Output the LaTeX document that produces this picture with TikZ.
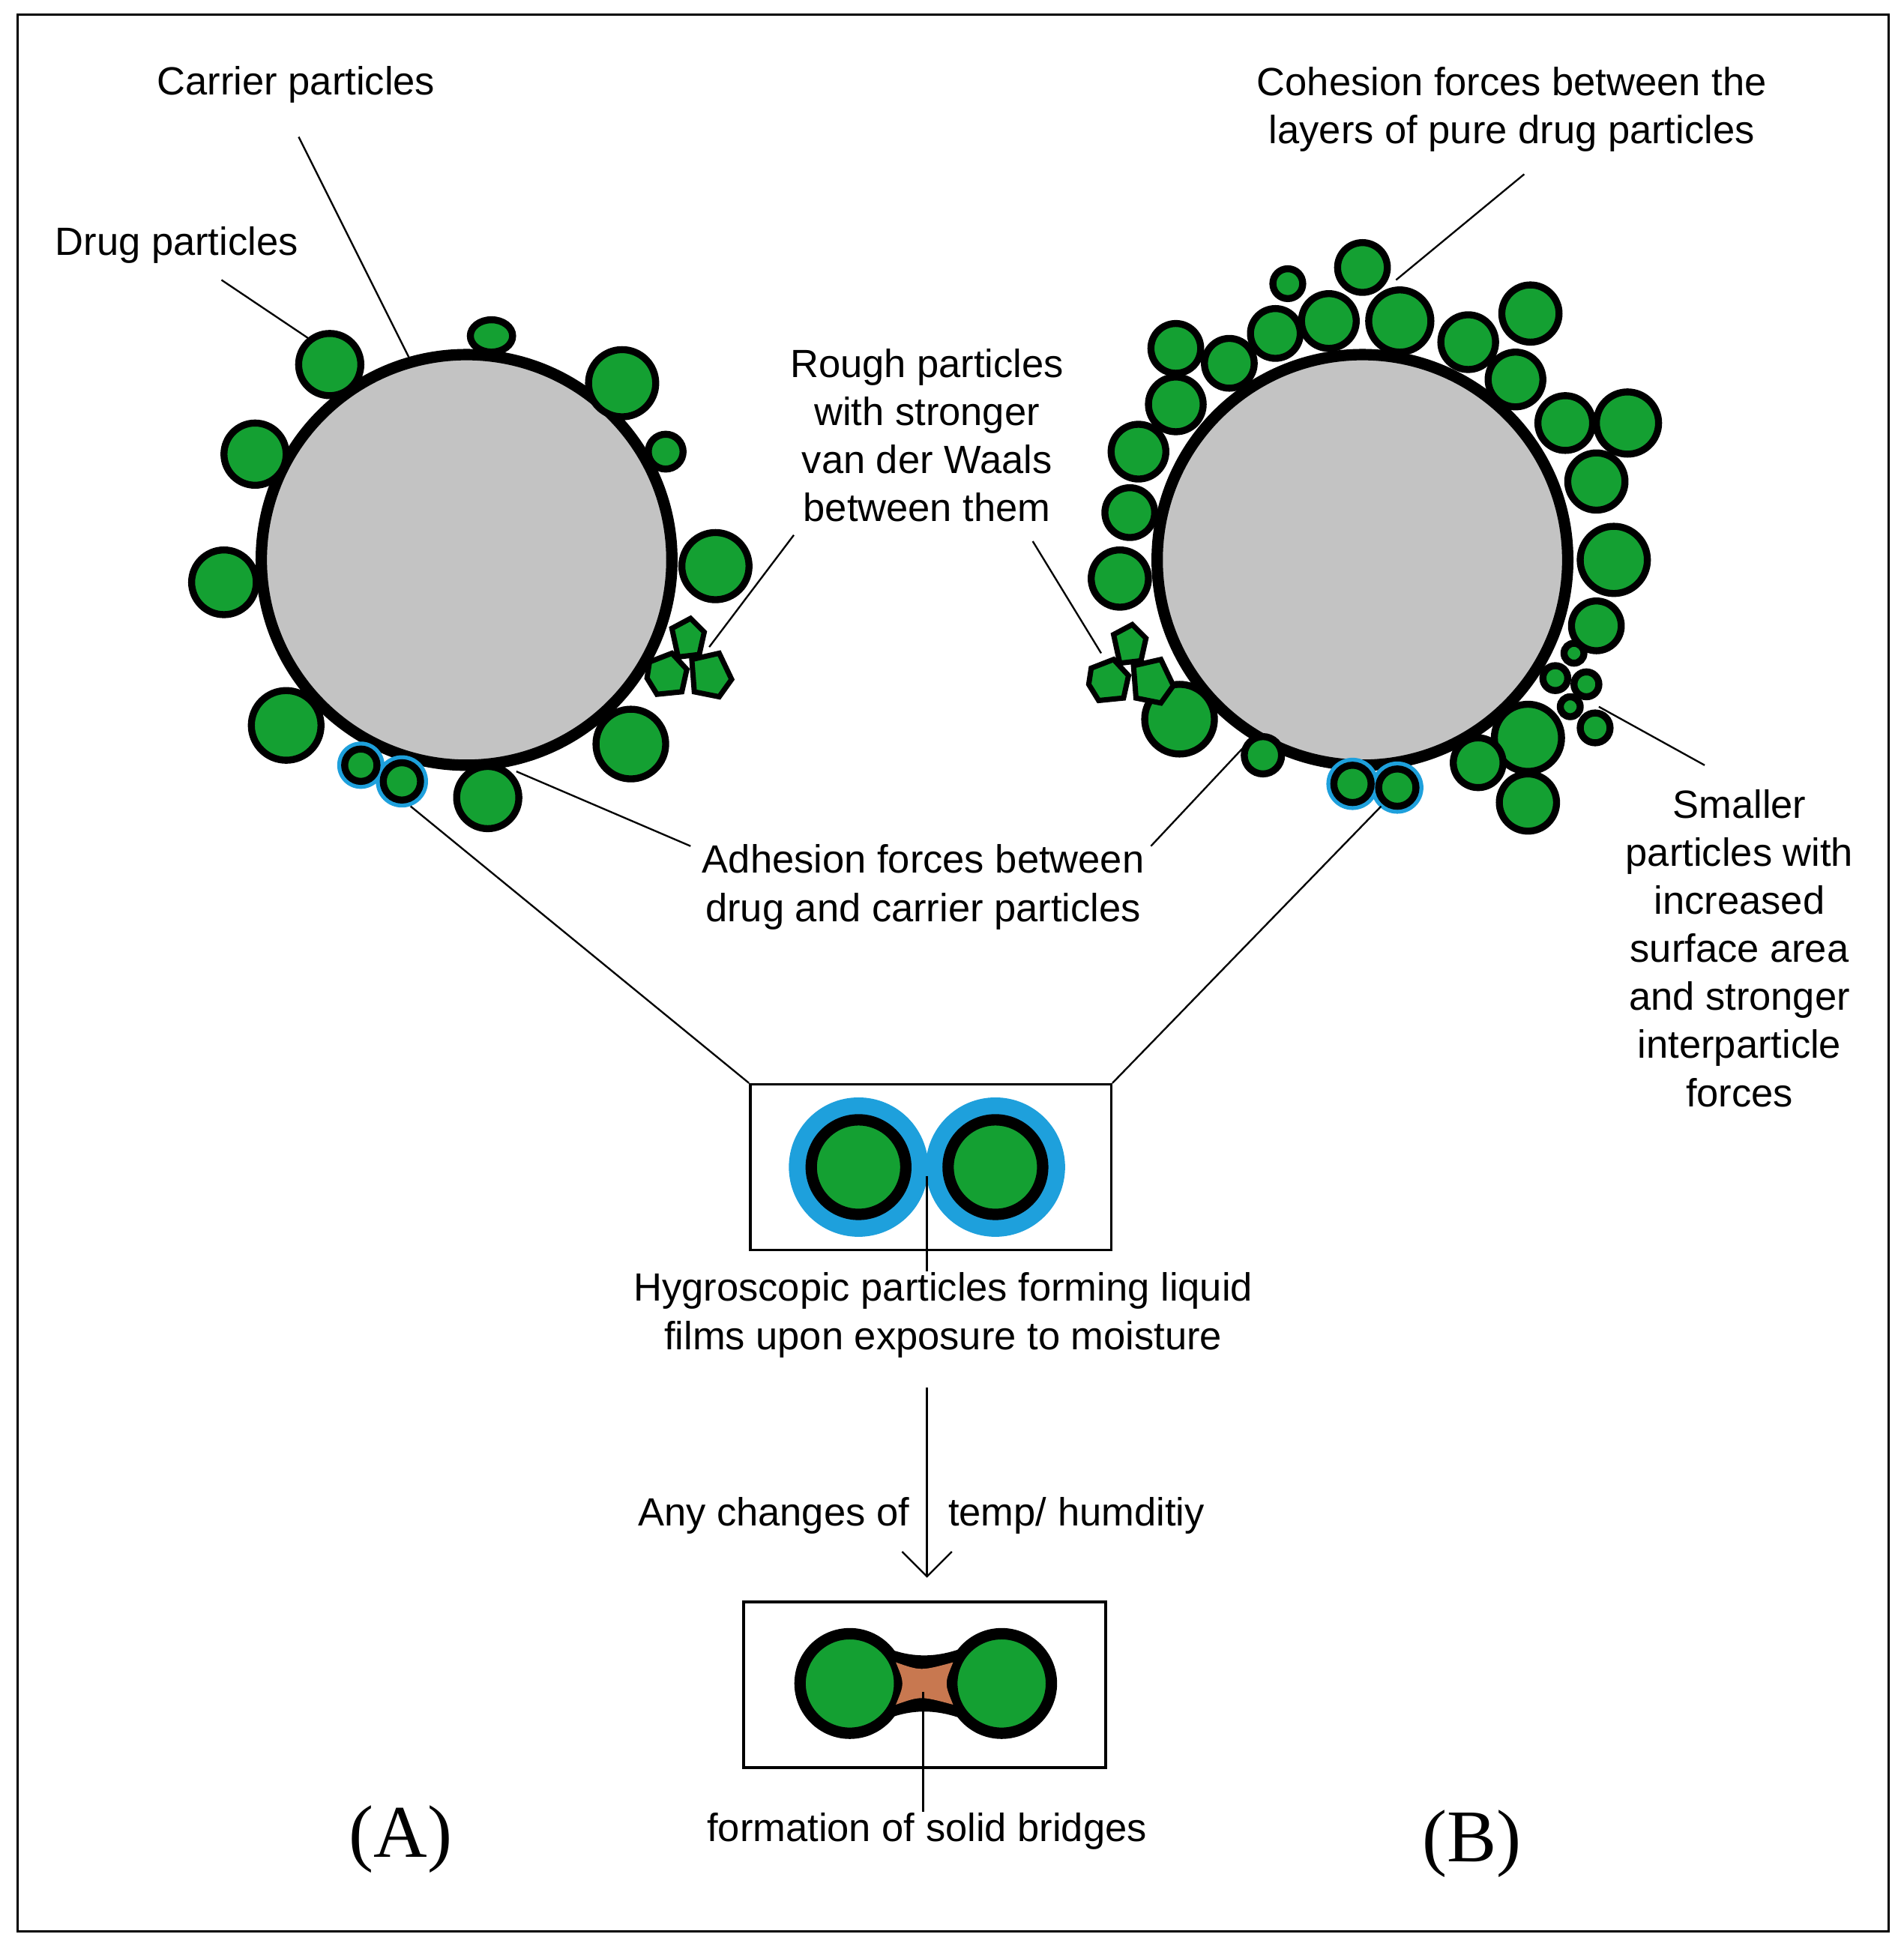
\documentclass[tikz,border=0pt]{standalone}
\usepackage{fontspec}
\setmainfont{Liberation Sans}
\newfontfamily\labelserif{Liberation Serif}
\usetikzlibrary{arrows.meta,positioning,shapes.geometric}
\definecolor{drug}{RGB}{20,160,50}
\definecolor{film}{RGB}{30,160,220}
\definecolor{carrier}{RGB}{195,195,195}
\definecolor{bridge}{RGB}{200,120,80}
\begin{document}
\begin{tikzpicture}[x=0.1mm, y=-0.1mm,
  drug/.style = {circle, draw=black, line width=1.6pt, fill=drug, inner sep=0pt},
  carrier/.style = {circle, draw=black, line width=2.6pt, fill=carrier, inner sep=0pt, minimum size=330*0.1mm},
  txt/.style = {font=\fontsize{9}{11}\selectfont, align=center, inner sep=1pt},
  lead/.style = {draw, line width=0.4pt}
  ]
  \useasboundingbox (0,0) rectangle (1530,1564);
  \draw[line width=0.5pt] (14,12) rectangle (1518,1552);
  % carriers
  \node[carrier] (carA) at (375,450) {};
  \node[carrier] (carB) at (1095,450) {};
  % drug particles on A
  \foreach \x/\y/\r [count=\n] in {265/293/50, 500/308/54, 535/363/28,
      205/365/50, 575/455/54, 180/468/52, 230/583/56, 507/598/56, 392/641/50}
    \node[drug, minimum size=\r*0.1mm] (pA\n) at (\x,\y) {};
  \node[drug, ellipse, minimum width=34*0.1mm, minimum height=26*0.1mm] (pAsmall) at (395,270) {};
  % wet particles
  \fill[film] (290,615) circle[radius=19] (323,628) circle[radius=21]
              (1087,630) circle[radius=21] (1123,633) circle[radius=21];
  \node[drug, minimum size=26*0.1mm] (wA1) at (290,615) {};
  \node[drug, minimum size=30*0.1mm] (wA2) at (323,628) {};
  \node[drug, minimum size=30*0.1mm] (wB1) at (1087,630) {};
  \node[drug, minimum size=30*0.1mm] (wB2) at (1123,633) {};
  % drug particles on B
  \foreach \x/\y/\r [count=\n] in {1095/215/40, 1035/228/24, 945/280/40, 988/292/40,
      1025/268/40, 1068/258/44, 1125/258/50, 1180/275/44, 1230/252/46, 1218/305/44,
      945/325/44, 1258/340/44, 1308/340/50, 915/363/44, 1283/387/46, 908/412/40,
      900/465/46, 1297/450/54, 1283/503/40, 948/578/56, 1015/607/30, 1228/593/54,
      1188/613/40, 1228/645/46, 1265/525/16, 1250/545/20, 1275/550/20, 1262/568/16,
      1282/585/24}
    \node[drug, minimum size=\r*0.1mm] (pB\n) at (\x,\y) {};
  % rough particles
  \foreach \dx/\dy in {0/0, 355/5}
  \draw[fill=drug, line width=1.2pt, xshift=\dx*0.1mm, yshift=-\dy*0.1mm]
    (540,505) -- (555,497) -- (566,508) -- (562,526) -- (545,528) -- cycle
    (522,532) -- (540,525) -- (552,538) -- (548,556) -- (528,558) -- (520,545) -- cycle
    (556,530) -- (578,525) -- (588,546) -- (578,560) -- (558,556) -- cycle;
  % labels
  \node[txt] (tCarrier) at (238,68) {Carrier particles};
  \node[txt] (tDrug) at (142,197) {Drug particles};
  \node[txt] (tCohesion) at (1215,88) {Cohesion forces between the\\layers of pure drug particles};
  \node[txt] (tRough) at (745,350) {Rough particles\\with stronger\\van der Waals\\between them};
  \node[txt] (tAdhesion) at (742,713) {Adhesion forces between\\drug and carrier particles};
  \node[txt] (tSmaller) at (1398,762) {Smaller\\particles with\\increased\\surface area\\and stronger\\interparticle\\forces};
  \coordinate (eCarrier) at (330,290);
  \coordinate (eDrug) at (248,272);
  \coordinate (eCohesion) at (1122,225);
  \coordinate (eRoughA) at (570,520);
  \coordinate (eRoughB) at (885,525);
  \coordinate (eAdhA) at (415,620);
  \coordinate (eAdhB) at (1000,600);
  \coordinate (eSmall) at (1285,568);
  \draw[lead] (240,110) -- (eCarrier);
  \draw[lead] (178,225) -- (eDrug);
  \draw[lead] (1225,140) -- (eCohesion);
  \draw[lead] (638,430) -- (eRoughA);
  \draw[lead] (830,435) -- (eRoughB);
  \draw[lead] (555,680) -- (eAdhA);
  \draw[lead] (925,680) -- (eAdhB);
  \draw[lead] (1370,615) -- (eSmall);
  % zoom box: liquid films
  \node[draw, line width=0.6pt, minimum width=290*0.1mm, minimum height=133*0.1mm] (boxFilm) at (748,938) {};
  \draw[lead] (330,648) -- (boxFilm.north west);
  \draw[lead] (1110,648) -- (boxFilm.north east);
  \fill[film] (690,938) circle[radius=56] (800,938) circle[radius=56];
  \node[drug, line width=2.6pt, minimum size=76*0.1mm] (fL) at (690,938) {};
  \node[drug, line width=2.6pt, minimum size=76*0.1mm] (fR) at (800,938) {};
  \node[txt] (tHygro) at (758,1057) {Hygroscopic particles forming liquid\\films upon exposure to moisture};
  \draw[lead] (745,945) -- (745,1022);
  % arrow to solid bridges
  \coordinate (aTop) at (745,1115);
  \node[draw, line width=0.6pt, minimum width=291*0.1mm, minimum height=133*0.1mm] (boxBridge) at (743,1354) {};
  \draw[lead, -{Straight Barb[length=2mm]}] (aTop) -- (745,1268);
  \node[txt, anchor=east] (tAny) at (735,1218) {Any changes of};
  \node[txt, anchor=west] (tTemp) at (758,1218) {temp/ humditiy};
  \draw[fill=black, line width=2.6pt] (705,1326) .. controls (730,1338) and (755,1338) .. (782,1326)
    -- (782,1380) .. controls (755,1368) and (730,1368) .. (705,1380) -- cycle;
  \node[drug, line width=2.6pt, minimum size=80*0.1mm] (bL) at (683,1353) {};
  \node[drug, line width=2.6pt, minimum size=80*0.1mm] (bR) at (805,1353) {};
  \fill[bridge] (720,1336) .. controls (740,1343) .. (766,1336)
    .. controls (759,1353) .. (766,1370) .. controls (740,1363) .. (720,1370)
    .. controls (727,1353) .. cycle;
  \draw[lead] (742,1360) -- (742,1456);
  \node[txt] (tBridge) at (745,1472) {formation of solid bridges};
  \node[font=\labelserif\fontsize{17}{20}\selectfont] (lblA) at (322,1478) {(A)};
  \node[font=\labelserif\fontsize{17}{20}\selectfont] (lblB) at (1183,1482) {(B)};
\end{tikzpicture}
\end{document}
